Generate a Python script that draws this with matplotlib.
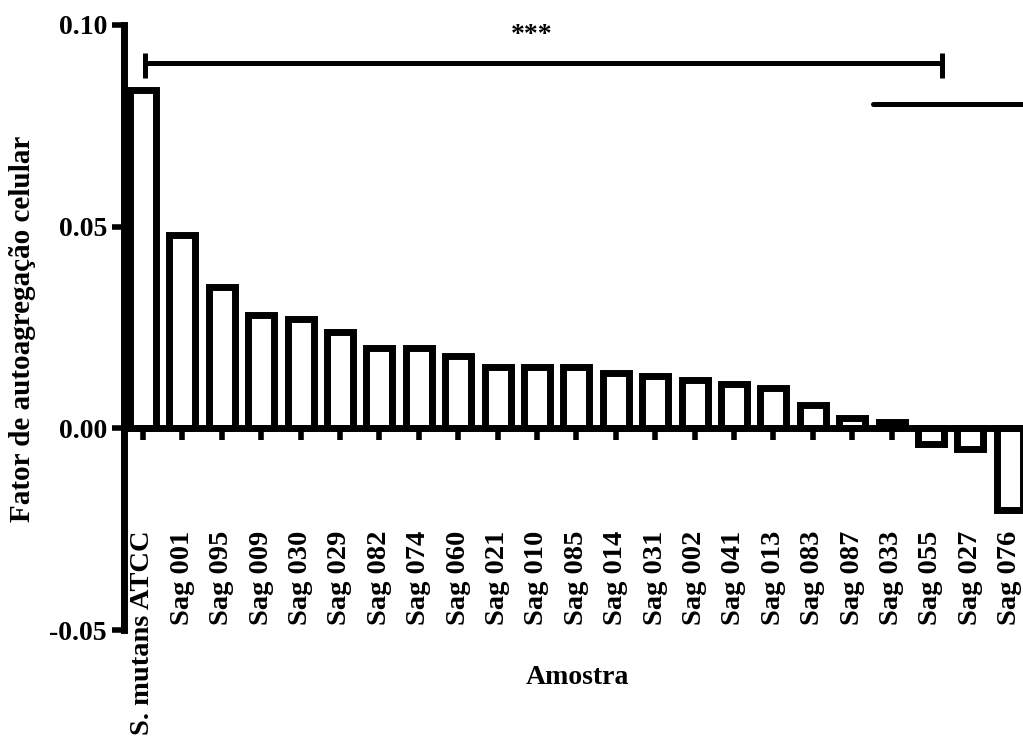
"""Bar chart of cell autoaggregation factor per sample."""

import matplotlib
matplotlib.use("Agg")
import matplotlib.pyplot as plt
import numpy as np

plt.rcParams['font.family'] = ['Liberation Serif', 'DejaVu Serif']
plt.rcParams['font.weight'] = 'bold'
plt.rcParams['font.size'] = 20

samples = ["S. mutans ATCC", "Sag 001", "Sag 095", "Sag 009", "Sag 030", "Sag 029",
           "Sag 082", "Sag 074", "Sag 060", "Sag 021", "Sag 010", "Sag 085",
           "Sag 014", "Sag 031", "Sag 002", "Sag 041", "Sag 013", "Sag 083",
           "Sag 087", "Sag 033", "Sag 055", "Sag 027", "Sag 076"]
autoagg = [0.084, 0.048, 0.035, 0.028, 0.027, 0.024,
           0.020, 0.020, 0.018, 0.0153, 0.0153, 0.0153,
           0.0138, 0.013, 0.0121, 0.0109, 0.010, 0.0058,
           0.0025, 0.0015, -0.004, -0.005, -0.0202]
y_ticks = [-0.05, 0.00, 0.05, 0.10]
y_tick_labels = ["-0.05", "0.00", "0.05", "0.10"]

# significance bracket (x span in bar units, height in data units)
bracket_x = [0.04, 20.27]
bracket_y = 0.0905
bracket_cap = [0.0869, 0.0931]
stars = "***"
stars_x = 9.87
stars_y = 0.0975
second_line_x = [18.53, 22.6]
second_line_y = 0.0803


def main() -> None:
    fig = plt.figure(figsize=(10.23, 7.43), dpi=100)
    ax = fig.add_axes([124 / 1023, (743 - 630) / 743, 1 - 124 / 1023, (630 - 25) / 743])

    x = np.arange(len(samples))
    ax.bar(x, autoagg, width=0.66, facecolor='white', edgecolor='black',
           linewidth=5, zorder=2)

    ax.set_xlim(-0.482, 22.335)
    ax.set_ylim(-0.05, 0.10)

    for side in ('top', 'right'):
        ax.spines[side].set_visible(False)
    ax.spines['left'].set_linewidth(5)
    ax.spines['bottom'].set_linewidth(5)
    ax.spines['bottom'].set_position(('data', 0))
    ax.spines['left'].set_zorder(3)
    ax.spines['bottom'].set_zorder(3)

    ax.set_yticks(y_ticks)
    ax.set_yticklabels(y_tick_labels)
    ax.set_xticks(x)
    ax.set_xticklabels(samples, rotation=90, va='top', ha='center')
    ax.tick_params(axis='y', direction='out', length=8.6, width=4, pad=3.6, labelsize=20)
    ax.tick_params(axis='x', direction='out', length=8.6, width=4, pad=65, labelsize=20.5)
    for lab in ax.get_xticklabels() + ax.get_yticklabels():
        lab.set_fontweight('bold')

    # bracket with end caps and the stars above it
    ax.plot(bracket_x, [bracket_y, bracket_y], color='black', lw=3.6,
            solid_capstyle='butt', clip_on=False)
    for bx in bracket_x:
        ax.plot([bx, bx], bracket_cap, color='black', lw=3.6,
                solid_capstyle='butt', clip_on=False)
    ax.text(stars_x, stars_y, stars, ha='center', va='center', fontsize=20,
            fontweight='bold')
    ax.plot(second_line_x, [second_line_y, second_line_y], color='black', lw=3.6,
            solid_capstyle='round')

    fig.text(23 / 1023, 1 - 329 / 743, "Fator de autoagregação celular", rotation=90,
             ha='center', va='center', fontsize=21, fontweight='bold')
    fig.text(577 / 1023, 1 - 677 / 743, "Amostra", ha='center', va='center',
             fontsize=20, fontweight='bold')

    fig.savefig("out.png", dpi=100)


if __name__ == "__main__":
    main()
